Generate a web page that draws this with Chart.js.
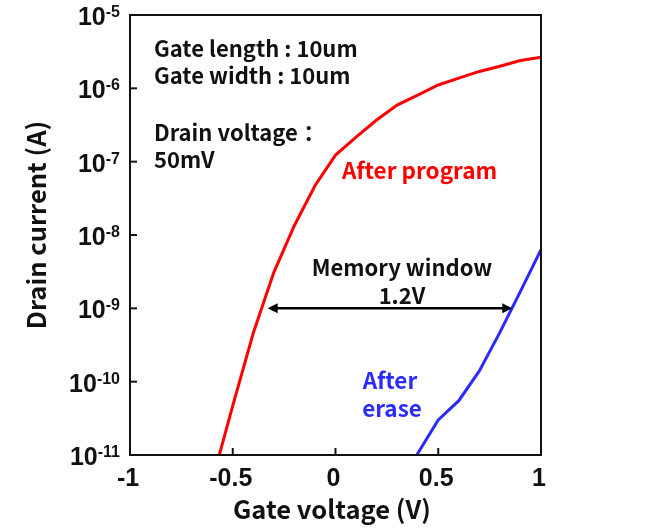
<html><head><title>Drain current vs gate voltage</title>
<style>
    body {
        margin: 0;
        background-color: #fff;
    }
    .chart-container {
        width: 660px;
        height: 530px;
    }
</style>
<script src="https://cdn.jsdelivr.net/npm/chart.js"></script>
</head>
<body>
<div class="chart-container">
    <canvas id="ivChart"></canvas>
</div>

<script>
// values (gate voltage in V, drain current in A)
const programVg = [-0.6, -0.5, -0.4, -0.3, -0.2, -0.1, 0.0, 0.1, 0.2, 0.3, 0.4, 0.5, 0.6, 0.7, 0.8, 0.9, 1.0];
const programId = [4.4e-12, 4.7e-11, 4.6e-10, 3.1e-9, 1.35e-8, 4.7e-8, 1.23e-7, 2.16e-7, 3.7e-7, 5.9e-7, 8.1e-7, 1.11e-6, 1.38e-6, 1.7e-6, 2.0e-6, 2.4e-6, 2.65e-6];
const eraseVg = [0.3, 0.4, 0.5, 0.6, 0.7, 0.8, 0.9, 1.0];
const eraseId = [3.5e-12, 1.05e-11, 3.0e-11, 5.5e-11, 1.4e-10, 4.7e-10, 1.7e-9, 6.3e-9];
const xTicks = [-1, -0.5, 0, 0.5, 1];
const xTickLabels = ['-1', '-0.5', '0', '0.5', '1'];
const yExponents = [-5, -6, -7, -8, -9, -10, -11];

// memory window arrow, from program curve to erase curve at 1e-9 A
const windowFrom = -0.33;
const windowTo = 0.86;
const windowLevel = 1e-9;

const RED = '#ff0000';
const BLUE = '#2b2bff';
const TEXT_FONT = "'Noto Sans CJK JP', 'Noto Sans', sans-serif";
const TICK_FONT = "'Liberation Sans', Arial, sans-serif";

function toPoints(xs, ys) {
    return xs.map((x, i) => ({ x: x, y: ys[i] }));
}

// frame, inside ticks, tick labels, axis titles and notes
const decorations = {
    id: 'decorations',
    afterDraw(chart) {
        const ctx = chart.ctx;
        const area = chart.chartArea;
        const xs = chart.scales.x;
        const ys = chart.scales.y;
        ctx.save();

        // memory window arrow
        const ay = ys.getPixelForValue(windowLevel);
        const ax1 = xs.getPixelForValue(windowFrom);
        const ax2 = xs.getPixelForValue(windowTo);
        ctx.strokeStyle = '#000';
        ctx.fillStyle = '#000';
        ctx.lineWidth = 2.5;
        ctx.beginPath();
        ctx.moveTo(ax1 + 8, ay);
        ctx.lineTo(ax2 - 8, ay);
        ctx.stroke();
        ctx.beginPath();
        ctx.moveTo(ax1, ay);
        ctx.lineTo(ax1 + 10, ay - 5);
        ctx.lineTo(ax1 + 10, ay + 5);
        ctx.closePath();
        ctx.fill();
        ctx.beginPath();
        ctx.moveTo(ax2, ay);
        ctx.lineTo(ax2 - 10, ay - 5);
        ctx.lineTo(ax2 - 10, ay + 5);
        ctx.closePath();
        ctx.fill();

        // frame
        ctx.lineWidth = 2;
        ctx.strokeStyle = '#111';
        ctx.strokeRect(area.left, area.top, area.right - area.left, area.bottom - area.top);

        // inside ticks
        ctx.lineWidth = 2;
        yExponents.forEach(e => {
            const py = ys.getPixelForValue(Math.pow(10, e));
            ctx.beginPath();
            ctx.moveTo(area.left, py);
            ctx.lineTo(area.left + 7, py);
            ctx.stroke();
        });
        xTicks.forEach(v => {
            const px = xs.getPixelForValue(v);
            ctx.beginPath();
            ctx.moveTo(px, area.bottom);
            ctx.lineTo(px, area.bottom - 7);
            ctx.stroke();
        });

        // y tick labels 10^n
        ctx.fillStyle = '#111';
        ctx.textBaseline = 'alphabetic';
        yExponents.forEach(e => {
            const py = ys.getPixelForValue(Math.pow(10, e));
            const expText = String(e);
            ctx.font = 'bold 16px ' + TICK_FONT;
            const expW = ctx.measureText(expText).width;
            ctx.font = 'bold 25px ' + TICK_FONT;
            const baseW = ctx.measureText('10').width;
            const right = 120;
            ctx.textAlign = 'left';
            ctx.fillText('10', right - expW - baseW, py + 10);
            ctx.font = 'bold 16px ' + TICK_FONT;
            ctx.fillText(expText, right - expW, py + 2);
        });

        // x tick labels
        ctx.font = 'bold 25px ' + TICK_FONT;
        ctx.textAlign = 'center';
        xTicks.forEach((v, i) => {
            const px = xs.getPixelForValue(v);
            ctx.fillText(xTickLabels[i], px - 2, area.bottom + 31);
        });

        // axis titles
        ctx.font = 'bold 25.5px ' + TEXT_FONT;
        ctx.textAlign = 'center';
        ctx.textBaseline = 'middle';
        ctx.fillText('Gate voltage (V)', 332, 509);
        ctx.save();
        ctx.translate(36, 225);
        ctx.rotate(-Math.PI / 2);
        ctx.fillText('Drain current (A)', 0, 0);
        ctx.restore();

        // notes
        ctx.font = 'bold 22px ' + TEXT_FONT;
        ctx.textAlign = 'left';
        ctx.fillText('Gate length : 10um', 154, 49);
        ctx.fillText('Gate width : 10um', 154, 76);
        ctx.fillText('Drain voltage：', 154, 133);
        ctx.fillText('50mV', 154, 160);

        ctx.fillStyle = RED;
        ctx.font = 'bold 22.5px ' + TEXT_FONT;
        ctx.fillText('After program', 342, 170);

        ctx.fillStyle = '#111';
        ctx.font = 'bold 22px ' + TEXT_FONT;
        ctx.textAlign = 'center';
        ctx.fillText('Memory window', 402, 268);
        ctx.fillText('1.2V', 402, 296);

        ctx.fillStyle = BLUE;
        ctx.font = 'bold 22.5px ' + TEXT_FONT;
        ctx.fillText('After', 390, 380);
        ctx.fillText('erase', 392, 408);

        ctx.restore();
    }
};

const ivChart = new Chart(document.getElementById('ivChart'), {
    type: 'line',
    data: {
        datasets: [{
            label: 'After program',
            data: toPoints(programVg, programId),
            borderColor: RED,
            borderWidth: 3,
            pointRadius: 0,
            tension: 0
        }, {
            label: 'After erase',
            data: toPoints(eraseVg, eraseId),
            borderColor: BLUE,
            borderWidth: 3,
            pointRadius: 0,
            tension: 0
        }]
    },
    options: {
        responsive: true,
        maintainAspectRatio: false,
        animation: false,
        layout: {
            padding: { left: 130, right: 119, top: 15, bottom: 75 }
        },
        scales: {
            x: {
                type: 'linear',
                display: false,
                min: -1,
                max: 1
            },
            y: {
                type: 'logarithmic',
                display: false,
                min: 1e-11,
                max: 1e-5
            }
        },
        plugins: {
            legend: { display: false },
            tooltip: { enabled: false }
        }
    },
    plugins: [decorations]
});
</script>
</body></html>
